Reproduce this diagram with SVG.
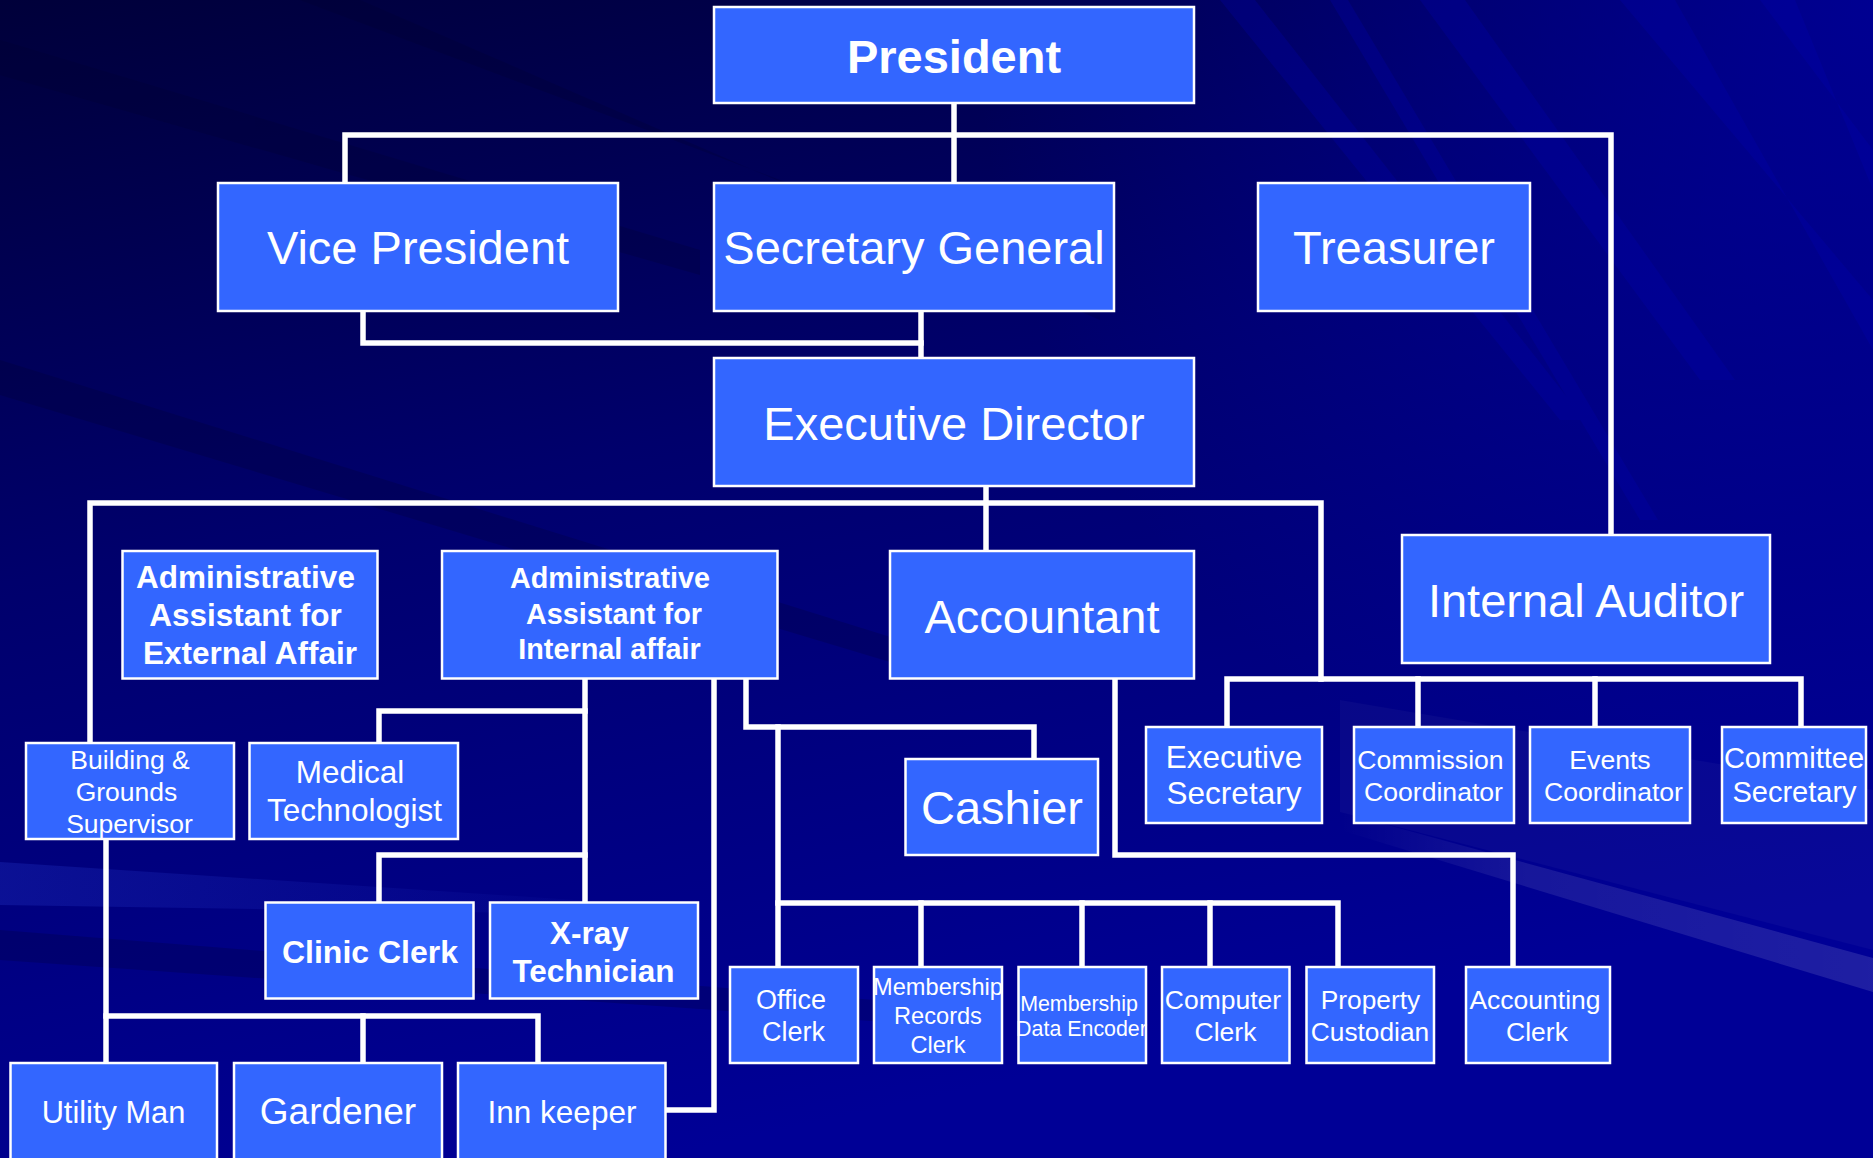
<svg xmlns="http://www.w3.org/2000/svg" width="1873" height="1158" viewBox="0 0 1873 1158">
  <defs>
    <linearGradient id="bgBase" x1="0" y1="0" x2="0.35" y2="1">
      <stop offset="0" stop-color="#00003a"/>
      <stop offset="0.45" stop-color="#00006c"/>
      <stop offset="1" stop-color="#000096"/>
    </linearGradient>
    <radialGradient id="glowTR" cx="1873" cy="0" r="900" gradientUnits="userSpaceOnUse">
      <stop offset="0" stop-color="#0000a8" stop-opacity="0.7"/>
      <stop offset="1" stop-color="#0000a8" stop-opacity="0"/>
    </radialGradient>
    <linearGradient id="band" x1="1340" y1="0" x2="1873" y2="0" gradientUnits="userSpaceOnUse">
      <stop offset="0" stop-color="#ffffff" stop-opacity="0"/>
      <stop offset="0.35" stop-color="#ffffff" stop-opacity="0.09"/>
      <stop offset="1" stop-color="#ffffff" stop-opacity="0.12"/>
    </linearGradient>
    <linearGradient id="leftSheen" x1="0" y1="0" x2="700" y2="0" gradientUnits="userSpaceOnUse">
      <stop offset="0" stop-color="#2030c0" stop-opacity="0.35"/>
      <stop offset="1" stop-color="#2030c0" stop-opacity="0"/>
    </linearGradient>
    <style>
      .box { fill: #3366ff; stroke: #ffffff; stroke-width: 2.5; }
      .wire { fill: none; stroke: #ffffff; stroke-width: 5.5; stroke-linejoin: miter; stroke-linecap: square; }
      text { fill: #ffffff; font-family: "Liberation Sans", Arial, sans-serif; text-anchor: middle; }
      .b { font-weight: bold; }
      .f47 { font-size: 47px; }
    </style>
  </defs>

  <!-- background with diagonal sheen -->
  <g id="background">
    <rect x="0" y="0" width="1873" height="1158" fill="url(#bgBase)"/>
    <rect x="0" y="0" width="1873" height="1158" fill="url(#glowTR)"/>
    <g fill="#00002c" opacity="0.22">
      <polygon points="0,40 700,250 700,275 0,75"/>
      <polygon points="0,360 900,640 900,665 0,395"/>
      <polygon points="300,0 1100,300 1100,320 360,0"/>
      <polygon points="0,930 1000,1010 1000,1030 0,960"/>
    </g>
    <polygon points="0,862 650,905 650,915 0,905" fill="url(#leftSheen)"/>
    <g fill="#0000b4" opacity="0.25">
      <polygon points="1220,0 1560,420 1585,420 1255,0"/>
      <polygon points="1420,0 1700,380 1735,380 1465,0"/>
      <polygon points="1620,0 1873,300 1873,350 1675,0"/>
      <polygon points="1330,0 1640,520 1658,520 1348,0"/>
      <polygon points="1760,0 1873,150 1873,190 1795,0"/>
    </g>
    <polygon points="1340,700 1873,790 1873,950 1340,812" fill="#ffffff" opacity="0.03"/>
    <polygon points="1340,812 1873,958 1873,992 1340,830" fill="url(#band)"/>
  </g>

  <!-- connectors -->
  <g id="connectors" class="wire">
    <path d="M954,103 V183"/>
    <path d="M345,183 V135 H1611 V535"/>
    <path d="M363,311 V343 H921"/>
    <path d="M921,311 V358"/>
    <path d="M986,487 V551"/>
    <path d="M90,743 V503 H1321 V679"/>
    <path d="M1227,727 V679 H1801 V727"/>
    <path d="M1418,679 V727"/>
    <path d="M1595,679 V727"/>
    <path d="M585,679 V902"/>
    <path d="M585,711 H379 V743"/>
    <path d="M585,855 H379 V902"/>
    <path d="M714,679 V1110 H666"/>
    <path d="M746,679 V727 H1034 V759"/>
    <path d="M778,727 V967"/>
    <path d="M778,903 H1338 V967"/>
    <path d="M921,903 V967"/>
    <path d="M1082,903 V967"/>
    <path d="M1210,903 V967"/>
    <path d="M1115,679 V855 H1513 V967"/>
    <path d="M106,839 V1063"/>
    <path d="M106,1016 H538 V1063"/>
    <path d="M363,1016 V1063"/>
  </g>

  <!-- top level -->
  <g id="president">
    <rect class="box" x="714" y="7" width="480" height="96"/>
    <text class="b f47" x="954" y="73">President</text>
  </g>
  <g id="vice-president">
    <rect class="box" x="218" y="183" width="400" height="128"/>
    <text class="f47" x="418" y="264">Vice President</text>
  </g>
  <g id="secretary-general">
    <rect class="box" x="714" y="183" width="400" height="128"/>
    <text class="f47" x="914" y="264">Secretary General</text>
  </g>
  <g id="treasurer">
    <rect class="box" x="1258" y="183" width="272" height="128"/>
    <text class="f47" x="1394" y="264">Treasurer</text>
  </g>
  <g id="executive-director">
    <rect class="box" x="714" y="358" width="480" height="128"/>
    <text class="f47" x="954" y="440">Executive Director</text>
  </g>

  <!-- second level -->
  <g id="admin-external">
    <rect class="box" x="122.5" y="551" width="255" height="127.5"/>
    <text class="b" font-size="31.5" x="245.5" y="588">Administrative</text>
    <text class="b" font-size="31.5" x="245.5" y="626">Assistant for</text>
    <text class="b" font-size="31.5" x="250" y="664">External Affair</text>
  </g>
  <g id="admin-internal">
    <rect class="box" x="442" y="551" width="335.5" height="127.5"/>
    <text class="b" font-size="28.8" x="610" y="588">Administrative</text>
    <text class="b" font-size="28.8" x="614" y="624">Assistant for</text>
    <text class="b" font-size="28.8" x="609.5" y="659">Internal affair</text>
  </g>
  <g id="accountant">
    <rect class="box" x="890" y="551" width="304" height="127.5"/>
    <text class="f47" x="1042" y="633">Accountant</text>
  </g>
  <g id="internal-auditor">
    <rect class="box" x="1402" y="535" width="368" height="128"/>
    <text class="f47" x="1586" y="617">Internal Auditor</text>
  </g>

  <!-- third level -->
  <g id="building-supervisor">
    <rect class="box" x="26" y="743" width="208" height="96"/>
    <text font-size="26.5" x="130" y="768.5">Building &amp;</text>
    <text font-size="26.5" x="126.5" y="801">Grounds</text>
    <text font-size="26.5" x="129.5" y="832.5">Supervisor</text>
  </g>
  <g id="medical-technologist">
    <rect class="box" x="249.5" y="743" width="208.5" height="96"/>
    <text font-size="31.5" x="350" y="783">Medical</text>
    <text font-size="31.5" x="354.5" y="821">Technologist</text>
  </g>
  <g id="cashier">
    <rect class="box" x="905.5" y="759" width="192.5" height="96"/>
    <text class="f47" x="1002" y="824">Cashier</text>
  </g>
  <g id="executive-secretary">
    <rect class="box" x="1146" y="727" width="176" height="96"/>
    <text font-size="31.5" x="1234" y="768">Executive</text>
    <text font-size="31.5" x="1234" y="804">Secretary</text>
  </g>
  <g id="commission-coordinator">
    <rect class="box" x="1354" y="727" width="160" height="96"/>
    <text font-size="26.6" x="1430.5" y="769">Commission</text>
    <text font-size="26.6" x="1433.5" y="801">Coordinator</text>
  </g>
  <g id="events-coordinator">
    <rect class="box" x="1530" y="727" width="160" height="96"/>
    <text font-size="26.6" x="1610" y="769">Events</text>
    <text font-size="26.6" x="1613.5" y="801">Coordinator</text>
  </g>
  <g id="committee-secretary">
    <rect class="box" x="1722" y="727" width="144" height="96"/>
    <text font-size="29" x="1794" y="768">Committee</text>
    <text font-size="29" x="1794.5" y="802">Secretary</text>
  </g>

  <!-- clinic staff -->
  <g id="clinic-clerk">
    <rect class="box" x="265.5" y="902.5" width="208" height="96"/>
    <text class="b" font-size="32" x="370" y="962.5">Clinic Clerk</text>
  </g>
  <g id="xray-technician">
    <rect class="box" x="490" y="902.5" width="208" height="96"/>
    <text class="b" font-size="31.5" x="589.5" y="944">X-ray</text>
    <text class="b" font-size="31.5" x="593.5" y="981.5">Technician</text>
  </g>

  <!-- office staff -->
  <g id="office-clerk">
    <rect class="box" x="730" y="967" width="128" height="96"/>
    <text font-size="27" x="791" y="1009">Office</text>
    <text font-size="27" x="793.5" y="1040.5">Clerk</text>
  </g>
  <g id="membership-records-clerk">
    <rect class="box" x="874" y="967" width="128" height="96"/>
    <text font-size="23.6" x="938" y="995">Membership</text>
    <text font-size="23.6" x="938" y="1023.5">Records</text>
    <text font-size="23.6" x="938" y="1052.5">Clerk</text>
  </g>
  <g id="membership-data-encoder">
    <rect class="box" x="1018.5" y="967" width="127.5" height="96"/>
    <text font-size="21.4" x="1079" y="1011">Membership</text>
    <text font-size="21.4" x="1081.5" y="1036">Data Encoder</text>
  </g>
  <g id="computer-clerk">
    <rect class="box" x="1162" y="967" width="127.5" height="96"/>
    <text font-size="26.5" x="1223" y="1009">Computer</text>
    <text font-size="26.5" x="1225.5" y="1041">Clerk</text>
  </g>
  <g id="property-custodian">
    <rect class="box" x="1306.5" y="967" width="127.5" height="96"/>
    <text font-size="26.3" x="1370.5" y="1009">Property</text>
    <text font-size="26.3" x="1370" y="1041">Custodian</text>
  </g>
  <g id="accounting-clerk">
    <rect class="box" x="1466" y="967" width="144" height="96"/>
    <text font-size="26.5" x="1535" y="1009">Accounting</text>
    <text font-size="26.5" x="1537" y="1041">Clerk</text>
  </g>

  <!-- grounds staff -->
  <g id="utility-man">
    <rect class="box" x="10.5" y="1063" width="206.5" height="120"/>
    <text font-size="30.8" x="113.5" y="1122.5">Utility Man</text>
  </g>
  <g id="gardener">
    <rect class="box" x="234" y="1063" width="208" height="120"/>
    <text font-size="37" x="338" y="1123.5">Gardener</text>
  </g>
  <g id="inn-keeper">
    <rect class="box" x="458" y="1063" width="207.5" height="120"/>
    <text font-size="31.5" x="562" y="1122.5">Inn keeper</text>
  </g>
</svg>
